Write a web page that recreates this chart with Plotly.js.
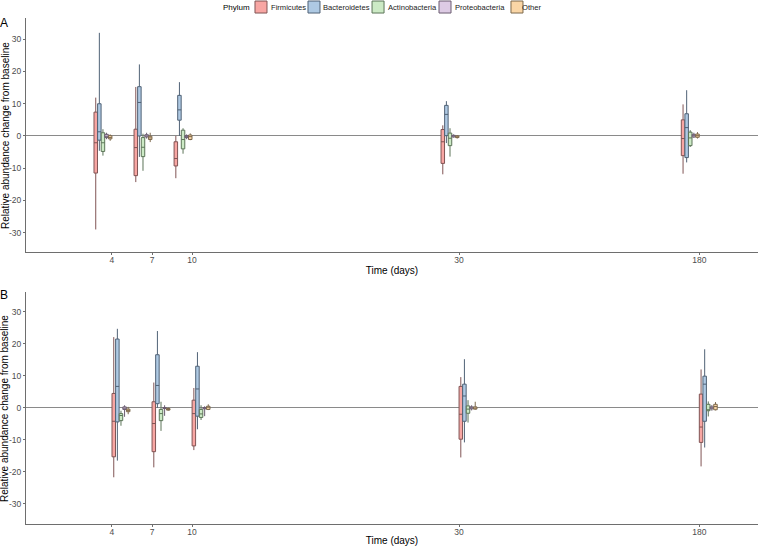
<!DOCTYPE html>
<html>
<head>
<meta charset="utf-8">
<script src="https://cdn.plot.ly/plotly-3.0.1.min.js"></script>
<style>
html,body{margin:0;padding:0;background:#fff;}
#chart{width:760px;height:546px;}
</style>
</head>
<body>
<div id="chart"></div>
<script>
// Time points: axis positions and their tick labels
const dayPositions = [4, 7, 10, 30, 48];
const dayLabels = ['4', '7', '10', '30', '180'];
const phyla = ['Firmicutes', 'Bacteroidetes', 'Actinobacteria', 'Proteobacteria', 'Other'];
const yTickVals = [-30, -20, -10, 0, 10, 20, 30];
const yTickText = ['-30', '-20', '-10', '0', '10', '20', '30'];

// Box statistics per time point: [lower whisker, q1, median, q3, upper whisker]
// Panel A
const firmicutesA      = [[-29.0,-11.5,-2.1,7.4,11.9],[-14.3,-12.3,-3.6,2.1,15.2],[-13.1,-9.3,-7.0,-1.8,0.0],[-11.9,-8.5,-1.8,2.0,3.3],[-11.7,-6.1,-0.8,5.0,9.8]];
const bacteroidetesA   = [[-4.6,-1.3,1.3,10.0,32.0],[-6.5,0.0,10.4,15.3,22.2],[0.0,4.9,8.1,12.6,16.7],[-2.2,0.1,6.7,9.5,10.8],[-8.2,-6.7,2.6,6.9,14.2]];
const actinobacteriaA  = [[-6.1,-4.8,-2.1,1.0,2.1],[-10.8,-6.4,-3.5,-0.5,0.7],[-5.5,-4.0,-1.1,1.8,2.4],[-6.4,-3.0,-0.7,0.9,2.4],[-3.4,-3.0,-0.6,1.2,1.8]];
const proteobacteriaA  = [[-1.0,-0.5,-0.1,0.5,1.0],[-0.8,-0.3,0.0,0.4,1.0],[-1.0,-0.5,-0.3,0.1,0.5],[-0.5,-0.3,0.0,0.2,0.5],[-0.6,-0.3,0.1,0.5,1.0]];
const otherA           = [[-1.5,-0.9,-0.5,0.1,0.5],[-1.9,-1.1,-0.6,-0.1,1.0],[-1.3,-1.1,-0.2,0.3,0.8],[-0.8,-0.5,-0.3,0.0,0.3],[-0.8,-0.4,0.1,0.6,1.2]];
// Panel B
const firmicutesB      = [[-21.7,-15.3,-4.2,4.5,22.1],[-18.6,-13.7,-4.9,1.9,7.9],[-13.2,-11.9,-1.8,2.4,6.2],[-15.5,-9.8,-2.0,6.7,9.6],[-18.3,-10.8,-6.0,4.3,12.0]];
const bacteroidetesB   = [[-16.5,-4.4,6.7,21.5,24.7],[0.0,1.3,7.0,16.6,24.0],[-6.7,-2.6,5.9,13.0,17.4],[-10.8,-4.2,3.7,7.4,15.2],[-12.4,-4.2,7.4,9.9,18.3]];
const actinobacteriaB  = [[-5.6,-4.0,-2.4,-1.8,-0.9],[-7.2,-4.0,-1.8,-0.5,1.9],[-3.8,-3.0,-1.9,-0.5,0.8],[-4.6,-1.7,-0.4,0.6,2.4],[-2.7,-0.9,-0.6,1.1,2.0]];
const proteobacteriaB  = [[-2.8,-0.5,-0.1,0.3,0.8],[-2.5,-0.2,0.0,0.1,0.8],[-2.6,-0.3,-0.1,0.1,0.5],[-0.8,-0.3,0.0,0.3,0.8],[-0.9,-0.3,0.0,0.3,0.9]];
const otherB           = [[-2.0,-1.2,-0.8,-0.4,0.3],[-0.9,-0.7,-0.5,-0.2,0.1],[-0.7,-0.5,0.3,0.5,1.1],[-0.6,-0.4,-0.1,0.3,1.9],[-0.8,-0.6,0.4,1.1,1.8]];

const panelA = [firmicutesA, bacteroidetesA, actinobacteriaA, proteobacteriaA, otherA];
const panelB = [firmicutesB, bacteroidetesB, actinobacteriaB, proteobacteriaB, otherB];

const fills = ['rgb(248,166,163)', 'rgb(174,201,227)', 'rgb(204,234,197)', 'rgb(221,203,228)', 'rgb(250,214,166)'];
const lines = ['rgb(128,84,84)', 'rgb(80,98,118)', 'rgb(92,116,88)', 'rgb(106,92,112)', 'rgb(124,104,76)'];
const legendIds = ['legend', 'legend2', 'legend3', 'legend4', 'legend5'];

const traces = [];
function addPanel(panel, xa, ya, showLeg) {
  panel.forEach((stats, i) => {
    traces.push({
      type: 'box',
      // legend key only; the phylum label is written next to it as text
      name: showLeg ? '' : phyla[i],
      legendgroup: phyla[i],
      legend: legendIds[i],
      showlegend: showLeg,
      x: dayPositions,
      lowerfence: stats.map(s => s[0]),
      q1: stats.map(s => s[1]),
      median: stats.map(s => s[2]),
      q3: stats.map(s => s[3]),
      upperfence: stats.map(s => s[4]),
      boxpoints: false,
      whiskerwidth: 0,
      fillcolor: fills[i],
      line: {color: lines[i], width: 1},
      xaxis: xa, yaxis: ya,
      hoverinfo: 'skip'
    });
  });
}
addPanel(panelA, 'x', 'y', true);
addPanel(panelB, 'x2', 'y2', false);

const FONT = 'Liberation Sans, Arial, sans-serif';
const axisLine = '#6e6e6e';
const tickFont = {family: FONT, size: 8.5, color: '#4d4d4d'};
const titleFont = {family: FONT, size: 10, color: '#000'};
const yTitle = 'Relative abundance change from baseline';

function xAxis(anchor) {
  return {
    anchor: anchor, range: [-2.44, 52.4],
    tickmode: 'array', tickvals: dayPositions, ticktext: dayLabels,
    showgrid: false, zeroline: false, showline: true, linecolor: axisLine, linewidth: 1,
    ticks: 'outside', ticklen: 2, tickcolor: axisLine, tickfont: tickFont,
    ticklabelstandoff: -2,
    title: {text: 'Time (days)', font: titleFont, standoff: 2},
    automargin: false
  };
}
function yAxis(anchor, domain, range) {
  return {
    anchor: anchor, domain: domain, range: range,
    tickmode: 'array', tickvals: yTickVals, ticktext: yTickText,
    showgrid: false, zeroline: true, zerolinecolor: '#8a8a8a', zerolinewidth: 1,
    showline: true, linecolor: axisLine, linewidth: 1,
    ticks: 'outside', ticklen: 2, tickcolor: axisLine, tickfont: tickFont,
    automargin: false
  };
}

// legend keys: paper x of each single-item legend (left edge); labels: paper x of text start
const legendX = [0.2937, 0.3661, 0.4536, 0.5451, 0.6434];
const legendLabelX = [0.3320, 0.4030, 0.4918, 0.5834, 0.6749];
const legends = {};
legendIds.forEach((id, i) => {
  legends[id] = {
    orientation: 'h', x: legendX[i], xanchor: 'left', y: 1.0217, yanchor: 'middle',
    font: {family: FONT, size: 7.6, color: '#222'},
    itemwidth: 30, bgcolor: 'rgba(0,0,0,0)', borderwidth: 0
  };
});

const annotations = [
  {text: 'A', xref: 'paper', yref: 'paper', x: -0.030, y: 0.990, xanchor: 'center', yanchor: 'middle', showarrow: false,
   font: {family: FONT, size: 12, color: '#000'}},
  {text: 'B', xref: 'paper', yref: 'paper', x: -0.030, y: 0.4525, xanchor: 'center', yanchor: 'middle', showarrow: false,
   font: {family: FONT, size: 12, color: '#000'}},
  {text: yTitle, textangle: -90, xref: 'paper', yref: 'paper', x: -0.0287, y: 0.76875, xanchor: 'center', yanchor: 'middle',
   showarrow: false, font: titleFont},
  {text: yTitle, textangle: -90, xref: 'paper', yref: 'paper', x: -0.0287, y: 0.22925, xanchor: 'center', yanchor: 'middle',
   showarrow: false, font: titleFont},
  {text: 'Phylum', xref: 'paper', yref: 'paper', x: 0.3087, y: 1.0217, xanchor: 'right', yanchor: 'middle', showarrow: false,
   font: {family: FONT, size: 8, color: '#000'}}
];
phyla.forEach((p, i) => {
  annotations.push({text: p, xref: 'paper', yref: 'paper', x: legendLabelX[i], y: 1.0217, xanchor: 'left', yanchor: 'middle',
    showarrow: false, font: {family: FONT, size: 7.6, color: '#222'}});
});

const layout = Object.assign({
  width: 760, height: 546,
  margin: {l: 26, r: 2, t: 18, b: 22, autoexpand: false},
  paper_bgcolor: '#fff', plot_bgcolor: '#fff',
  boxmode: 'group', boxgap: 0.1, boxgroupgap: 0.03,
  xaxis: xAxis('y'),
  yaxis: yAxis('x', [0.5375, 1], [-36, 36.6]),
  xaxis2: xAxis('y2'),
  yaxis2: yAxis('x2', [0, 0.4585], [-36.3, 36.2]),
  showlegend: true,
  annotations: annotations
}, legends);

Plotly.newPlot('chart', traces, layout, {displayModeBar: false, staticPlot: true});
</script>
</body>
</html>
